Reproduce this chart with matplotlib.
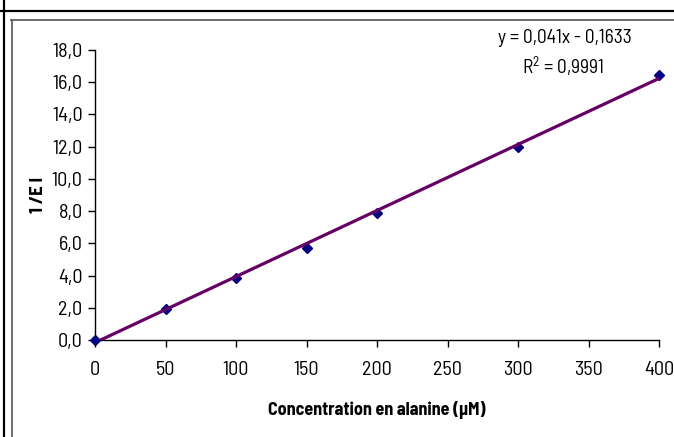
import matplotlib
matplotlib.use("Agg")
import matplotlib.pyplot as plt
from matplotlib.lines import Line2D
from matplotlib.ticker import FuncFormatter
import numpy as np

FONT = 'Barlow Semi Condensed'
plt.rcParams['font.family'] = [FONT, 'DejaVu Sans']
plt.rcParams['mathtext.fontset'] = 'custom'
plt.rcParams['mathtext.rm'] = FONT
plt.rcParams['mathtext.it'] = FONT
plt.rcParams['mathtext.bf'] = FONT + ':bold'

# Measurements
concentration = [0, 50, 100, 150, 200, 300, 400]          # alanine (µM)
inverse_e = [0.0, 1.95, 3.82, 5.72, 7.88, 11.98, 16.45]   # 1/E I

# Linear trendline
slope = 0.041
intercept = -0.1633
r_squared = 0.9991

x_ticks = [0, 50, 100, 150, 200, 250, 300, 350, 400]
y_ticks = [0, 2, 4, 6, 8, 10, 12, 14, 16, 18]

W, H = 674, 437
fig = plt.figure(figsize=(W / 100, H / 100), dpi=100)
fig.patch.set_facecolor('white')

# Surrounding frame lines
fig.add_artist(Line2D([3.5 / W, 3.5 / W], [0, 1], color='black', lw=1.6,
                      transform=fig.transFigure))
fig.add_artist(Line2D([0, 1], [1 - 10.5 / H, 1 - 10.5 / H], color='black', lw=1.6,
                      transform=fig.transFigure))
fig.add_artist(Line2D([11.5 / W, 11.5 / W], [0, 1 - 20 / H], color='#555555', lw=1.2,
                      transform=fig.transFigure))
fig.add_artist(Line2D([11 / W, 1], [1 - 20 / H, 1 - 20 / H], color='#555555', lw=1.2,
                      transform=fig.transFigure))

left, right, top, bottom = 95, 659, 50, 340
ax = fig.add_axes([left / W, (H - bottom) / H, (right - left) / W, (bottom - top) / H])

ax.plot(concentration, inverse_e, linestyle='none', marker='D', markersize=5.5,
        color='#000080', zorder=3, clip_on=False)

xfit = np.array([0, 400])
ax.plot(xfit, slope * xfit + intercept, color='#660066', lw=2.3, zorder=4)

ax.set_xlim(0, 400)
ax.set_ylim(0, 18)
ax.set_xticks(x_ticks)
ax.set_yticks(y_ticks)
ax.yaxis.set_major_formatter(FuncFormatter(lambda v, p: f"{v:.1f}".replace('.', ',')))

for s in ['top', 'right']:
    ax.spines[s].set_visible(False)
for s in ['left', 'bottom']:
    ax.spines[s].set_linewidth(1.0)
    ax.spines[s].set_color('black')

ax.tick_params(axis='both', direction='out', length=5, width=1, labelsize=14.5, colors='black')
ax.tick_params(axis='x', pad=10)
ax.tick_params(axis='y', pad=4)

ax.set_xlabel('Concentration en alanine (µM)', fontsize=13, fontweight='bold')
ax.set_ylabel('1 /E I', fontsize=13.5, fontweight='bold')
ax.xaxis.set_label_coords((377 - left) / (right - left), -(410 - bottom) / (bottom - top))
ax.yaxis.set_label_coords(-(left - 38) / (right - left), (bottom - 195) / (bottom - top))
ax.xaxis.label.set_va('center')
ax.yaxis.label.set_va('center')

fig.text(565 / W, 1 - 38 / H, f"y = {slope:.3f}x - {abs(intercept):.4f}".replace('.', ','),
         ha='center', va='center', fontsize=14)
fig.text(563 / W, 1 - 66 / H, "R$^2$" + f" = {r_squared:.4f}".replace('.', ','),
         ha='center', va='center', fontsize=14)

fig.savefig('out.png', dpi=100)
